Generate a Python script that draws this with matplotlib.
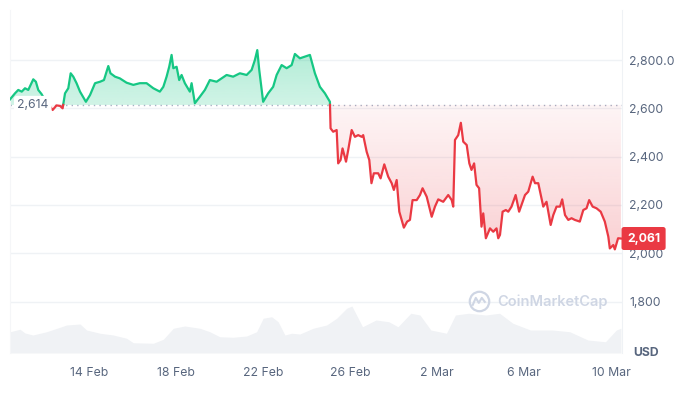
import numpy as np
import matplotlib.pyplot as plt
from matplotlib.path import Path

plt.rcParams['font.family'] = ['Inter', 'DejaVu Sans']

# days counted from 1 Feb 2025 (so 2 Mar = 30)
day = [10.37, 10.60, 10.75, 10.91, 11.06, 11.21, 11.44, 11.56, 11.67, 11.82,
       11.98, 12.21, 12.33, 12.51, 12.67, 12.79, 12.90, 13.05, 13.16, 13.28,
       13.43, 13.59, 13.86, 14.05, 14.28, 14.51, 14.69, 14.89, 14.99, 15.20,
       15.42, 15.73, 16.04, 16.34, 16.65, 16.96, 17.26, 17.42, 17.57, 17.69,
       17.80, 17.88, 18.03, 18.15, 18.26, 18.41, 18.64, 18.72, 18.87, 19.10,
       19.33, 19.56, 19.87, 20.33, 20.63, 20.94, 21.25, 21.48, 21.63, 21.74,
       21.83, 22.01, 22.24, 22.47, 22.63, 22.86, 23.09, 23.32, 23.47, 23.70,
       23.93, 24.16, 24.39, 24.62, 24.85, 25.08, 25.11, 25.23, 25.39, 25.46,
       25.57, 25.66, 25.82, 25.92, 26.08, 26.23, 26.38, 26.54, 26.61, 26.77,
       26.89, 26.99, 27.10, 27.30, 27.41, 27.58, 27.76, 27.92, 28.02, 28.15,
       28.27, 28.48, 28.63, 28.76, 28.88, 29.07, 29.22, 29.34, 29.53, 29.76,
       29.91, 30.06, 30.29, 30.52, 30.68, 30.75, 30.83, 30.98, 31.10, 31.21,
       31.37, 31.49, 31.59, 31.71, 31.82, 31.94, 32.05, 32.13, 32.25, 32.44,
       32.59, 32.74, 32.82, 32.90, 33.02, 33.17, 33.28, 33.43, 33.62, 33.78,
       34.05, 34.20, 34.40, 34.51, 34.66, 34.81, 34.89, 35.04, 35.23, 35.35,
       35.50, 35.66, 35.76, 35.89, 36.04, 36.19, 36.34, 36.57, 36.73, 36.88,
       37.00, 37.16, 37.34, 37.53, 37.72, 37.88, 37.95, 38.11, 38.18, 38.33,
       38.46]
price = [2637, 2662, 2676, 2669, 2683, 2676, 2720, 2710, 2676, 2659,
         2634, 2607, 2593, 2612, 2610, 2600, 2662, 2683, 2745, 2731,
         2704, 2669, 2627, 2655, 2704, 2710, 2717, 2775, 2745, 2731,
         2724, 2706, 2697, 2704, 2704, 2683, 2669, 2689, 2731, 2772,
         2821, 2766, 2772, 2717, 2738, 2704, 2669, 2704, 2621, 2648,
         2676, 2717, 2710, 2738, 2731, 2745, 2738, 2759, 2800, 2841,
         2759, 2627, 2662, 2689, 2738, 2779, 2766, 2779, 2825, 2807,
         2814, 2821, 2745, 2689, 2662, 2627, 2517, 2503, 2510, 2372,
         2386, 2434, 2379, 2427, 2510, 2482, 2489, 2482, 2489, 2420,
         2386, 2290, 2331, 2331, 2310, 2368, 2317, 2290, 2262, 2303,
         2172, 2106, 2131, 2138, 2220, 2220, 2241, 2269, 2234, 2151,
         2193, 2223, 2213, 2241, 2220, 2193, 2469, 2489, 2540, 2462,
         2448, 2372, 2345, 2372, 2283, 2269, 2110, 2165, 2062, 2103,
         2089, 2103, 2062, 2076, 2172, 2179, 2172, 2193, 2241, 2172,
         2241, 2255, 2317, 2290, 2290, 2227, 2193, 2213, 2117, 2158,
         2193, 2193, 2223, 2158, 2138, 2145, 2138, 2131, 2179, 2186,
         2220, 2193, 2186, 2172, 2131, 2069, 2020, 2034, 2016, 2062,
         2061]

vol_day = [10.37, 10.83, 11.06, 11.42, 12.05, 12.74, 12.97, 13.59, 13.89, 14.51,
           15.12, 15.73, 16.04, 16.96, 17.42, 17.88, 18.41, 19.10, 19.56, 20.02,
           20.63, 21.25, 21.71, 22.01, 22.40, 22.70, 23.01, 23.32, 23.70, 24.31,
           24.93, 25.39, 25.85, 26.09, 26.58, 27.20, 27.79, 28.21, 28.80, 29.22,
           29.72, 30.44, 30.85, 31.46, 32.25, 32.88, 33.49, 34.30, 35.31, 36.11,
           36.94, 37.75, 38.25, 38.46]
volume = [17.0, 19.0, 16.0, 14.4, 17.0, 21.0, 22.4, 23.2, 18.4, 15.8,
          14.4, 11.8, 8.2, 7.8, 11.0, 19.8, 21.6, 19.8, 17.0, 13.0,
          12.6, 13.6, 17.0, 27.8, 29.0, 25.0, 14.4, 15.8, 15.2, 19.8,
          22.4, 27.8, 35.8, 37.6, 21.0, 26.4, 25.0, 21.0, 31.8, 30.4,
          18.4, 15.8, 30.4, 31.8, 30.4, 31.8, 23.8, 18.4, 18.4, 17.0,
          10.4, 9.0, 18.4, 19.8]

base = 2614
last = 2061
tick_days = [14, 18, 22, 26, 30, 34, 38]
tick_names = ['14 Feb', '18 Feb', '22 Feb', '26 Feb', '2 Mar', '6 Mar', '10 Mar']
y_ticks = [1800, 2000, 2200, 2400, 2600, 2800]
y_names = ['1,800', '2,000', '2,200', '2,400', '2,600', '2,800.0']

green = '#16c784'
red = '#ea3943'
grey = '#58667e'
grid_c = '#eff2f5'

# insert the points where the line crosses the baseline
xs, ys = [day[0]], [price[0]]
for i in range(1, len(day)):
    if (price[i-1] - base) * (price[i] - base) < 0:
        t = (base - price[i-1]) / (price[i] - price[i-1])
        xs.append(day[i-1] + t * (day[i] - day[i-1]))
        ys.append(base)
    xs.append(day[i])
    ys.append(price[i])
xs = np.array(xs)
ys = np.array(ys, dtype=float)

fig = plt.figure(figsize=(6.94, 3.98), dpi=100)
rect = [10/694, 45/398, 612/694, 343/398]
x0, x1 = 10.37, 38.51
y0, y1 = 1587, 3007

axv = fig.add_axes(rect)
axv.fill_between(vol_day, volume, 0, color='#f0f2f5', lw=0)
axv.set_xlim(x0, x1)
axv.set_ylim(0, 274.4)
axv.axis('off')

ax = fig.add_axes(rect)
ax.patch.set_alpha(0)
ax.set_xlim(x0, x1)
ax.set_ylim(y0, y1)

for v in y_ticks:
    ax.axhline(v, color=grid_c, lw=1, zorder=0)
ax.axhline(base, color='#a6b0c3', lw=1, ls=(0, (1, 3)), zorder=1)


def gradient_fill(mask, color, lo, hi, a_lo, a_hi):
    poly = ax.fill_between(xs, ys, base, where=mask, lw=0, facecolor='none')
    path = Path.make_compound_path(*poly.get_paths())
    rgba = np.zeros((256, 1, 4))
    rgba[..., :3] = plt.matplotlib.colors.to_rgb(color)
    rgba[:, 0, 3] = np.linspace(a_lo, a_hi, 256)
    im = ax.imshow(rgba, extent=[x0, x1, lo, hi], origin='lower', aspect='auto',
                   zorder=1)
    im.set_clip_path(path, transform=ax.transData)


gradient_fill(ys >= base, green, base, 2850, 0.2, 0.34)
gradient_fill(ys <= base, red, 2000, base, 0.24, 0.05)

ax.plot(xs, np.where(ys >= base, ys, np.nan), color=green, lw=1.6, zorder=3)
ax.plot(xs, np.where(ys <= base, ys, np.nan), color=red, lw=1.6, zorder=3)

ax.set_xlim(x0, x1)
ax.set_ylim(y0, y1)

ax.yaxis.tick_right()
ax.set_yticks(y_ticks)
ax.set_yticklabels(y_names)
ax.set_xticks(tick_days)
ax.set_xticklabels(tick_names)
ax.tick_params(length=0, colors=grey, labelsize=8.8)
ax.tick_params(axis='y', pad=5)
ax.tick_params(axis='x', pad=10)
for lab in ax.get_yticklabels():
    lab.set_horizontalalignment('left')
for s in ['top', 'bottom']:
    ax.spines[s].set_visible(False)
ax.spines['right'].set_color(grid_c)
ax.spines['left'].set_color('#f5f6f8')

ax.annotate('2,614', xy=(0, base), xycoords=('axes fraction', 'data'),
            xytext=(7, 0), textcoords='offset pixels', ha='left', va='center',
            fontsize=8.8, color=grey, zorder=5,
            bbox=dict(boxstyle='round,pad=0.25', fc='white', ec='none'))
ax.annotate(f'{last:,}', xy=(1, last), xycoords=('axes fraction', 'data'),
            xytext=(5, 0), textcoords='offset pixels', ha='left', va='center',
            fontsize=8.8, color='white', fontweight='bold', zorder=5,
            bbox=dict(boxstyle='round,pad=0.45,rounding_size=0.2', fc=red, ec='none'),
            annotation_clip=False)

ax.text(1.018, 0.0, 'USD', transform=ax.transAxes, ha='left', va='center',
        fontsize=8.8, fontweight='bold', color=grey)

# watermark
ax.plot([0.766], [0.152], marker='o', ms=14, mfc='none', mec='#cfd6e4', mew=1.6,
        transform=ax.transAxes, zorder=2)
wx = 0.766 + np.array([-6, -3, 0, 3, 6]) / 612
wy = 0.152 + np.array([-4, 3, -2, 3, -1]) / 343
ax.plot(wx, wy, color='#cfd6e4', lw=1.5, transform=ax.transAxes, zorder=2)
ax.text(0.796, 0.149, 'CoinMarketCap', transform=ax.transAxes, ha='left',
        va='center', fontsize=10.5, fontweight='semibold', color='#cfd6e4', zorder=2)

fig.savefig('out.png', dpi=100)
